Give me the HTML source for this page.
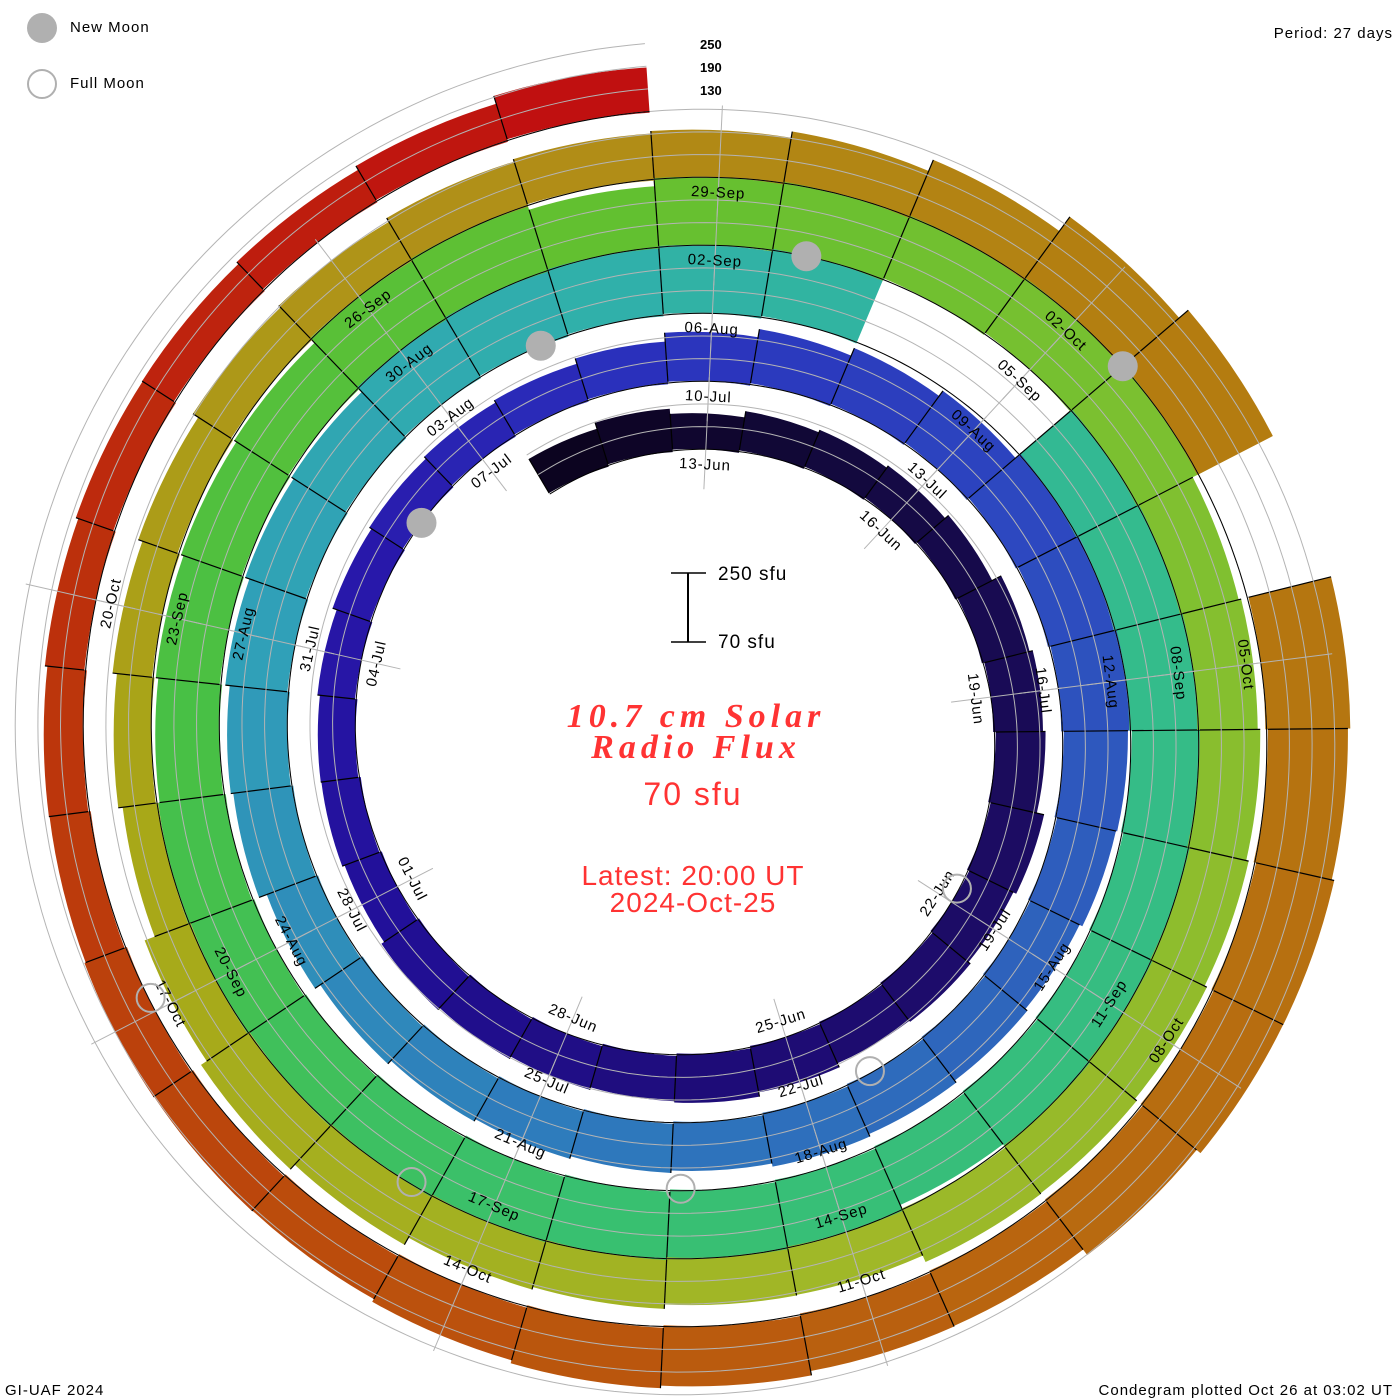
<!DOCTYPE html>
<html><head><meta charset="utf-8"><title>10.7 cm Solar Radio Flux Condegram</title>
<style>
html,body{margin:0;padding:0;background:#fff;}
svg{display:block;}
text{font-family:"Liberation Sans",sans-serif;}
text.serif{font-family:"Liberation Serif",serif;font-style:italic;font-weight:bold;}
</style></head>
<body>
<svg id="chart" width="1400" height="1400" viewBox="0 0 1400 1400" xmlns="http://www.w3.org/2000/svg">
  <g id="bars"></g>
  <g id="grid"></g>
  <g id="labels"></g>
  <g id="moons"></g>

  <g>
    <circle cx="42" cy="28" r="15" fill="#b0b0b0"/>
    <text x="70" y="28" font-size="15" dominant-baseline="middle" letter-spacing="1">New Moon</text>
    <circle cx="42" cy="84" r="14" fill="none" stroke="#b0b0b0" stroke-width="2"/>
    <text x="70" y="84" font-size="15" dominant-baseline="middle" letter-spacing="1">Full Moon</text>
  </g>
  <text x="1393" y="38" font-size="15" text-anchor="end" letter-spacing="1">Period: 27 days</text>
  <g font-size="13" font-weight="bold">
    <text x="700" y="49">250</text>
    <text x="700" y="72">190</text>
    <text x="700" y="95">130</text>
  </g>
  <g stroke="#000">
    <line x1="688" y1="573" x2="688" y2="642" stroke-width="2"/>
    <line x1="671" y1="573" x2="706" y2="573" stroke-width="1.5"/>
    <line x1="671" y1="642" x2="706" y2="642" stroke-width="1.5"/>
  </g>
  <text x="718" y="580" font-size="19" letter-spacing="1">250 sfu</text>
  <text x="718" y="648" font-size="19" letter-spacing="1">70 sfu</text>
  <g fill="#ff3333" text-anchor="middle">
    <text class="serif" x="696" y="727" font-size="34" letter-spacing="5">10.7 cm Solar</text>
    <text class="serif" x="696" y="758" font-size="34" letter-spacing="5">Radio Flux</text>
    <text x="693" y="805" font-size="32" letter-spacing="2">70 sfu</text>
    <text x="693" y="885" font-size="28" letter-spacing="1">Latest: 20:00 UT</text>
    <text x="693" y="912" font-size="28" letter-spacing="1">2024-Oct-25</text>
  </g>
  <text x="5" y="1395" font-size="15" letter-spacing="1">GI-UAF 2024</text>
  <text x="1393" y="1395" font-size="15" text-anchor="end" letter-spacing="1">Condegram plotted Oct 26 at 03:02 UT</text>
</svg>
<script>
// ---- data (day 0 = 11-Jun-2024) ----
const flux = [
175,185,165,175,175,175,180,200,202,202,215,200,200,190,195,200,190,190,190,190,175,175,170,170,175,175,175,
175,183,200,215,230,240,255,250,255,240,230,215,215,215,215,200,200,200,200,205,215,230,230,235,240,240,255,
270,270,250,270,null,null,260,280,280,270,270,255,255,240,255,255,255,255,255,250,250,250,240,240,240,240,250,
255,235,255,270,275,280,295,230,230,230,230,230,230,225,200,195,200,200,215,225,200,165,170,175,180,190,190,195,
195,195,205,230,270,295,null,295,282,282,275,255,230,225,230,230,215,200,195,190,180,175,175,175,170,170,175,190
];
const labelDays = [2,5,8,11,14,17,20,23,26,29,32,35,38,41,44,47,50,53,56,59,62,65,68,71,74,77,80,83,86,89,92,95,98,101,104,107,110,113,116,119,122,125,128,131];
const labelText = ["13-Jun","16-Jun","19-Jun","22-Jun","25-Jun","28-Jun","01-Jul","04-Jul","07-Jul","10-Jul","13-Jul","16-Jul","19-Jul","22-Jul","25-Jul","28-Jul","31-Jul","03-Aug","06-Aug","09-Aug","12-Aug","15-Aug","18-Aug","21-Aug","24-Aug","27-Aug","30-Aug","02-Sep","05-Sep","08-Sep","11-Sep","14-Sep","17-Sep","20-Sep","23-Sep","26-Sep","29-Sep","02-Oct","05-Oct","08-Oct","11-Oct","14-Oct","17-Oct","20-Oct"];
const newMoonDays = [24.9, 54.2, 83.8, 113.5];
const fullMoonDays = [10.8, 40.2, 69.4, 98.7, 128.1];
const gridLevels = [130, 190, 250];

// ---- geometry ----
const CX = 692, CY = 735, R0 = 281, GROW = 2.52, PX_PER_SFU = 68 / 180, BASE = 70;
const DAY_DEG = 360 / 27, THETA0 = -23.9;
const NS = "http://www.w3.org/2000/svg";
function ang(t) { return THETA0 + DAY_DEG * t; }
function rBase(t) { return R0 + GROW * t; }
function rFlux(t, f) { return rBase(t) + (f - BASE) * PX_PER_SFU; }
function pt(deg, r) { const a = deg * Math.PI / 180; return [CX + r * Math.sin(a), CY - r * Math.cos(a)]; }
const stops = [[0,"#0c0420"],[5,"#150a45"],[10,"#1c0c62"],[15,"#1e0c78"],[20,"#22109a"],[24,"#2818aa"],[28,"#2a30bc"],[33,"#2d48c0"],[38,"#2e62bc"],[44,"#2e7cbc"],[50,"#30a0b8"],[55,"#30b0aa"],[61,"#34bb8e"],[70,"#38c070"],[76,"#48c045"],[82,"#62c030"],[88,"#80c030"],[95,"#a0b828"],[102,"#a8a818"],[108,"#b09018"],[114,"#b47c10"],[120,"#b86a10"],[126,"#bb4c0c"],[131,"#bc300c"],[136,"#c01010"]];
function hex(c){return [1,3,5].map(k=>parseInt(c.substr(k,2),16));}
function colorAt(i){
  for(let k=0;k<stops.length-1;k++){const a=stops[k],b=stops[k+1];
    if(i<=b[0]){const u=(i-a[0])/(b[0]-a[0]);const ca=hex(a[1]),cb=hex(b[1]);
      return "rgb("+ca.map((v,j)=>Math.round(v+(cb[j]-v)*u)).join(",")+")";}}
  return stops[stops.length-1][1];
}
const bars = document.getElementById("bars");
const grid = document.getElementById("grid");
const labels = document.getElementById("labels");
const moons = document.getElementById("moons");

flux.forEach(function(f, i){
  if (f === null) return;
  const a1 = ang(i) - DAY_DEG/2, a2 = ang(i) + DAY_DEG/2;
  const r1 = rBase(i), r2 = rFlux(i, f);
  const p1 = pt(a1, r1), p2 = pt(a1, r2), p3 = pt(a2, r2), p4 = pt(a2, r1);
  const d = "M"+p1+" L"+p2+" A"+r2+" "+r2+" 0 0 1 "+p3+" L"+p4+" A"+r1+" "+r1+" 0 0 0 "+p1+" Z";
  const path = document.createElementNS(NS, "path");
  path.setAttribute("d", d);
  path.setAttribute("fill", colorAt(i));
  
  
  bars.appendChild(path);
  const div = document.createElementNS(NS, "line");
  div.setAttribute("x1", p1[0]); div.setAttribute("y1", p1[1]);
  div.setAttribute("x2", p2[0]); div.setAttribute("y2", p2[1]);
  div.setAttribute("stroke", "#000"); div.setAttribute("stroke-width", "1.2");
  
  
  bars.appendChild(div);
});

function spiral(off, color, width, name){
  let d = "";
  for (let t = -0.5; t <= flux.length - 0.5 + 1e-6; t += 0.1) {
    const p = pt(ang(t), rBase(t) + off);
    d += (d ? " L" : "M") + p[0].toFixed(1) + "," + p[1].toFixed(1);
  }
  const path = document.createElementNS(NS, "path");
  path.setAttribute("d", d); path.setAttribute("fill", "none");
  path.setAttribute("stroke", color); path.setAttribute("stroke-width", width);
  
  
  grid.appendChild(path);
}
gridLevels.forEach(function(lv){ spiral((lv - BASE) * PX_PER_SFU, "#b4b4b4", 1, "grid-spiral"); });
spiral(0, "#000", 1, "baseline-spiral");

labelDays.forEach(function(t){
  const p1 = pt(ang(t), rBase(t) - 40), p2 = pt(ang(t), rBase(t) + 72);
  const ln = document.createElementNS(NS, "line");
  ln.setAttribute("x1", p1[0]); ln.setAttribute("y1", p1[1]);
  ln.setAttribute("x2", p2[0]); ln.setAttribute("y2", p2[1]);
  ln.setAttribute("stroke", "#b4b4b4"); ln.setAttribute("stroke-width", "1");
  
  
  grid.appendChild(ln);
});

labelDays.forEach(function(t, k){
  const a = ang(t);
  const p = pt(a, rBase(t) - 16);
  let an = ((a % 360) + 360) % 360;
  const rot = (an > 90 && an < 270) ? an - 180 : an;
  const tx = document.createElementNS(NS, "text");
  tx.setAttribute("x", p[0].toFixed(1)); tx.setAttribute("y", p[1].toFixed(1));
  tx.setAttribute("font-size", "15"); tx.setAttribute("letter-spacing", "1");
  tx.setAttribute("text-anchor", "middle"); tx.setAttribute("dominant-baseline", "middle");
  tx.setAttribute("transform", "rotate(" + rot.toFixed(1) + " " + p[0].toFixed(1) + " " + p[1].toFixed(1) + ")");
  tx.textContent = labelText[k];
  
  
  labels.appendChild(tx);
});

newMoonDays.forEach(function(t){
  const p = pt(ang(t), rBase(t));
  const c = document.createElementNS(NS, "circle");
  c.setAttribute("cx", p[0]); c.setAttribute("cy", p[1]); c.setAttribute("r", 15);
  c.setAttribute("fill", "#b0b0b0");
  
  
  moons.appendChild(c);
});
fullMoonDays.forEach(function(t){
  const p = pt(ang(t), rBase(t) - 2);
  const c = document.createElementNS(NS, "circle");
  c.setAttribute("cx", p[0]); c.setAttribute("cy", p[1]); c.setAttribute("r", 14);
  c.setAttribute("fill", "none"); c.setAttribute("stroke", "#b0b0b0"); c.setAttribute("stroke-width", "2");
  
  
  moons.appendChild(c);
});
</script>
</body></html>
